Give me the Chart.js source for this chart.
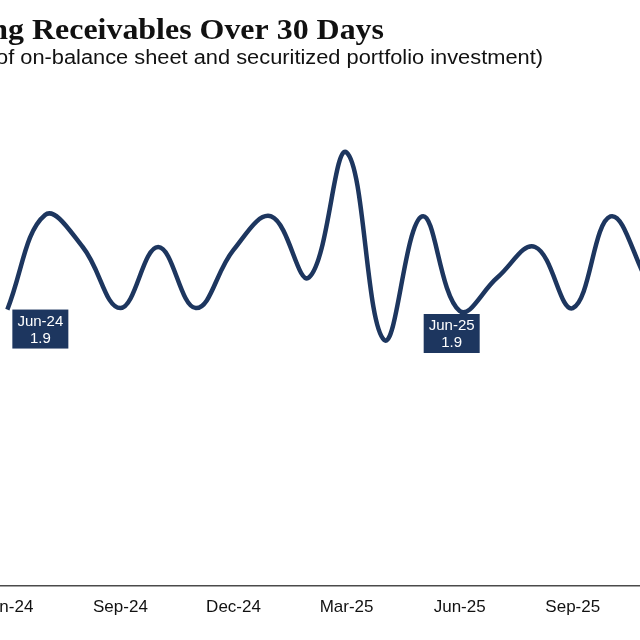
<!DOCTYPE html>
<html>
<head>
<meta charset="utf-8">
<script src="https://cdn.jsdelivr.net/npm/chart.js@4"></script>
<style>
  html, body { margin: 0; padding: 0; background: #fff; width: 640px; height: 640px; overflow: hidden; }
  #wrap { position: absolute; left: -120px; top: 0; width: 800px; height: 640px; }
</style>
</head>
<body>
<div id="wrap"><canvas id="agingChart" width="800" height="640"></canvas></div>
<script>
// monthly data, Jun-24 .. Nov-25
const months = ['Jun-24', 'Jul-24', 'Aug-24', 'Sep-24', 'Oct-24', 'Nov-24', 'Dec-24',
                'Jan-25', 'Feb-25', 'Mar-25', 'Apr-25', 'May-25', 'Jun-25', 'Jul-25',
                'Aug-25', 'Sep-25', 'Oct-25', 'Nov-25'];
const receivables = [1.90, 2.55, 2.33, 1.91, 2.33, 1.91, 2.31, 2.54, 2.12, 2.98,
                     1.69, 2.54, 1.89, 2.12, 2.33, 1.91, 2.54, 2.08];
const calloutMonths = ['Jun-24', 'Jun-25'];

const titleText = 'Outstanding Receivables Over 30 Days';
const subtitleText = '(% of on-balance sheet and securitized portfolio investment)';
const navy = '#1d365f';

// right-aligned text, squeezed/stretched so that `tail` ends up `tailWidth` wide
function drawFitted(ctx, text, tail, font, rightX, baseline, tailWidth) {
    ctx.save();
    ctx.font = font;
    const sx = tailWidth / ctx.measureText(tail).width;
    ctx.translate(rightX, baseline);
    ctx.scale(sx, 1);
    ctx.textAlign = 'right';
    ctx.textBaseline = 'alphabetic';
    ctx.fillText(text, 0, 0);
    ctx.restore();
}

// title + subtitle drawn straight on the canvas
const headerPlugin = {
    id: 'header',
    afterDraw(chart) {
        const ctx = chart.ctx;
        ctx.fillStyle = '#111';
        drawFitted(ctx, titleText, 'Receivables Over 30 Days',
                   'bold 29px "Liberation Serif"', 504, 39, 352);
        drawFitted(ctx, subtitleText, 'of on-balance sheet and securitized portfolio investment)',
                   '19.5px "Liberation Sans"', 663, 63.5, 547);
    }
};

// the two dark label boxes under Jun-24 and Jun-25
const calloutShift = [5, -36];
const calloutDrop = [0, 3];
const calloutPlugin = {
    id: 'callouts',
    afterDatasetsDraw(chart) {
        const ctx = chart.ctx;
        const meta = chart.getDatasetMeta(0);
        const w = 56, h = 39;
        ctx.save();
        ctx.font = '15px "Liberation Sans"';
        ctx.textAlign = 'center';
        ctx.textBaseline = 'middle';
        calloutMonths.forEach((m, k) => {
            const i = months.indexOf(m);
            const pt = meta.data[i];
            const x = pt.x + calloutShift[k];
            const y = pt.y + calloutDrop[k];
            ctx.fillStyle = navy;
            ctx.fillRect(x, y, w, h);
            ctx.fillStyle = '#fff';
            ctx.fillText(m, x + w / 2, y + 12);
            ctx.fillText(receivables[i].toFixed(1), x + w / 2, y + 29);
        });
        ctx.restore();
    }
};

const ctx = document.getElementById('agingChart').getContext('2d');
const lineChart = new Chart(ctx, {
    type: 'line',
    data: {
        labels: months,
        datasets: [{
            label: 'Receivables over 30 days',
            data: receivables,
            borderColor: navy,
            borderWidth: 4.5,
            tension: 0.4,
            pointRadius: 0,
            fill: false,
        }],
    },
    options: {
        responsive: false,
        animation: false,
        layout: {
            padding: { left: 108.5, right: 13, top: 120.4, bottom: 0 },
        },
        plugins: {
            legend: { display: false },
            tooltip: { enabled: false },
        },
        scales: {
            x: {
                offset: true,
                grid: { display: false, drawTicks: false },
                border: { display: true, color: '#4a4a4a', width: 1.5 },
                ticks: {
                    autoSkip: false,
                    maxRotation: 0,
                    padding: 11,
                    color: '#111',
                    font: { family: '"Liberation Sans"', size: 17 },
                    callback: (val, idx) => (idx % 3 === 0 ? months[idx] : ''),
                },
                afterFit: (scale) => { scale.height = 54; },
            },
            y: {
                display: false,
                min: 0,
                max: 3.2,
            },
        },
    },
    plugins: [headerPlugin, calloutPlugin],
});
</script>
</body>
</html>
